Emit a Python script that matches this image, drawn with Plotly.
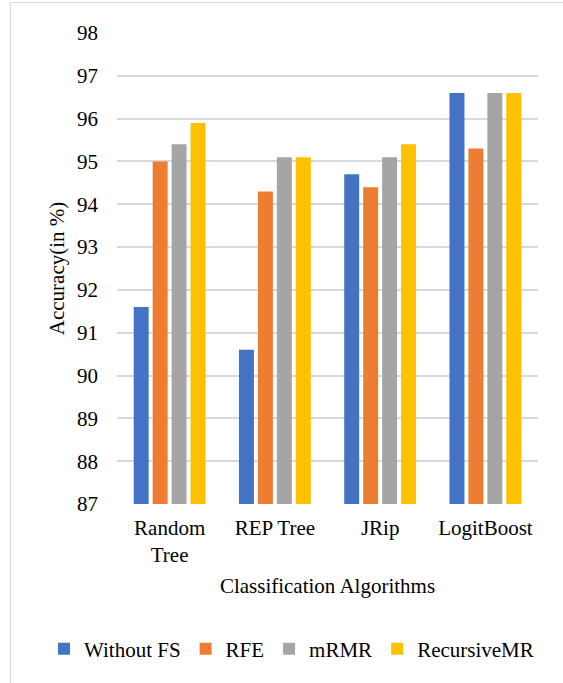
import plotly.graph_objects as go

algorithms = ["Random<br>Tree", "REP Tree", "JRip", "LogitBoost"]
without_fs = [91.6, 90.6, 94.7, 96.6]
rfe = [95.0, 94.3, 94.4, 95.3]
mrmr = [95.4, 95.1, 95.1, 96.6]
recursive_mr = [95.9, 95.1, 95.4, 96.6]

series = [
    ("Without FS", without_fs, "#4472C4"),
    ("RFE", rfe, "#ED7D31"),
    ("mRMR", mrmr, "#A5A5A5"),
    ("RecursiveMR", recursive_mr, "#FFC000"),
]

serif = "Liberation Serif"

fig = go.Figure()
for name, vals, color in series:
    fig.add_trace(go.Bar(
        x=algorithms, y=vals, name=name,
        marker=dict(color=color, line=dict(width=0)),
        base=0,
    ))

W, H = 563, 683
ml, mr, mt, mb = 117, 25, 33, 179
pw = W - ml - mr
ph = H - mt - mb

fig.update_layout(
    width=W, height=H,
    margin=dict(l=ml, r=mr, t=mt, b=mb, autoexpand=False),
    paper_bgcolor="white", plot_bgcolor="white",
    barmode="group", bargap=0.28, bargroupgap=0.21,
    font=dict(family=serif, size=21, color="#000000"),
    xaxis=dict(
        showgrid=False, showline=False, ticks="", automargin=False,
        tickfont=dict(family=serif, size=21), ticklabelstandoff=9,
        title=dict(text="Classification Algorithms",
                   font=dict(family=serif, size=21), standoff=12),
    ),
    yaxis=dict(
        range=[87, 98], dtick=1, tick0=87, automargin=False,
        showgrid=True, gridcolor="#D9D9D9", gridwidth=1.5,
        zeroline=False, showline=False, ticks="",
        tickfont=dict(family=serif, size=21), ticklabelstandoff=18,
        title=dict(text="Accuracy(in %)",
                   font=dict(family=serif, size=21), standoff=6),
    ),
    legend=dict(
        orientation="h", xref="paper", yref="paper",
        x=(44 - ml) / pw, xanchor="left",
        y=(mt + ph - 649) / ph, yanchor="middle",
        font=dict(family=serif, size=21), itemwidth=30,
        traceorder="normal", tracegroupgap=0,
    ),
    shapes=[dict(
        type="rect", xref="paper", yref="paper",
        x0=(10.5 - ml) / pw, x1=(W + 20 - ml) / pw,
        y0=(mt + ph - (H + 20)) / ph, y1=1 + (mt - 2.5) / ph,
        line=dict(color="#D9D9D9", width=1.2), layer="below",
    )],
)

fig.write_html("out.html")
